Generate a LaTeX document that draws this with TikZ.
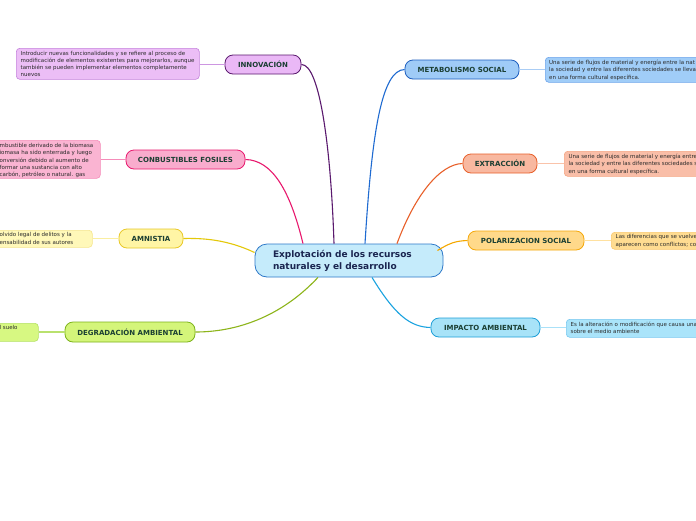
\documentclass[tikz,border=0pt]{standalone}
\usepackage{fontspec}
\setmainfont{DejaVu Sans}
\usetikzlibrary{calc}
\definecolor{txtgreen}{HTML}{1B3F33}
\definecolor{txtnavy}{HTML}{1A2550}
\definecolor{desctxt}{HTML}{2A2A2A}
% central
\definecolor{cfill}{RGB}{197,235,251}
\definecolor{cdraw}{RGB}{45,120,200}
% innovacion
\definecolor{innD}{RGB}{90,25,110}
\definecolor{innF}{RGB}{234,184,246}
\definecolor{inndD}{RGB}{196,130,220}
\definecolor{inndF}{RGB}{236,190,246}
\definecolor{innL}{RGB}{205,150,225}
% combustibles
\definecolor{comD}{RGB}{232,25,110}
\definecolor{comF}{RGB}{249,172,205}
\definecolor{comdD}{RGB}{245,140,185}
\definecolor{comdF}{RGB}{250,180,210}
\definecolor{comL}{RGB}{245,140,185}
% amnistia
\definecolor{amnD}{RGB}{232,200,40}
\definecolor{amnF}{RGB}{255,245,165}
\definecolor{amndD}{RGB}{245,230,140}
\definecolor{amndF}{RGB}{255,248,185}
\definecolor{amnL}{RGB}{250,238,160}
\definecolor{amnC}{RGB}{228,200,10}
% degradacion
\definecolor{degD}{RGB}{125,179,26}
\definecolor{degF}{RGB}{212,245,122}
\definecolor{degdD}{RGB}{180,225,100}
\definecolor{degdF}{RGB}{215,248,130}
\definecolor{degL}{RGB}{185,225,110}
\definecolor{degC}{RGB}{141,181,26}
% metabolismo
\definecolor{metD}{RGB}{31,95,191}
\definecolor{metF}{RGB}{159,203,247}
\definecolor{metdD}{RGB}{110,165,235}
\definecolor{metdF}{RGB}{160,205,248}
\definecolor{metL}{RGB}{170,205,245}
\definecolor{metC}{RGB}{31,107,209}
% extraccion
\definecolor{extD}{RGB}{232,96,42}
\definecolor{extF}{RGB}{248,184,160}
\definecolor{extdD}{RGB}{245,165,130}
\definecolor{extdF}{RGB}{249,190,168}
\definecolor{extL}{RGB}{250,195,170}
% polarizacion
\definecolor{polD}{RGB}{245,168,10}
\definecolor{polF}{RGB}{255,217,138}
\definecolor{poldD}{RGB}{250,200,110}
\definecolor{poldF}{RGB}{255,220,145}
\definecolor{polL}{RGB}{255,225,160}
\definecolor{polC}{RGB}{245,168,0}
% impacto
\definecolor{impD}{RGB}{30,159,216}
\definecolor{impF}{RGB}{168,227,248}
\definecolor{impdD}{RGB}{120,200,240}
\definecolor{impdF}{RGB}{170,228,250}
\definecolor{impL}{RGB}{170,225,248}
\definecolor{impC}{RGB}{26,163,224}
\begin{document}
\begin{tikzpicture}[x=1pt,y=-1pt,
  topic/.style={draw, line width=0.8pt, rounded corners=8pt, inner sep=0pt,
    font=\fontsize{7}{8}\selectfont\bfseries, text=txtgreen, align=center},
  descbox/.style={draw, line width=0.6pt, rounded corners=3.5pt, inner sep=0pt, anchor=north west},
  desctext/.style={anchor=north west, inner sep=0pt, align=left, text=desctxt,
    font=\fontsize{5.5}{7.2}\selectfont},
  conn/.style={line width=1.1pt},
  link/.style={line width=1.4pt}]
\useasboundingbox (0,0) rectangle (696,520);
\clip (0,0) rectangle (696,520);
\fill[white] (0,0) rectangle (696,520);

% central
\node[draw=cdraw, fill=cfill, line width=0.8pt,
  rounded corners=12pt, minimum width=188pt, minimum height=33pt, inner sep=0pt,
  text=txtnavy, font=\fontsize{9}{12}\selectfont\bfseries, text width=152pt, align=left] (c) at (349,260.5)
  {Explotación de los recursos\\naturales y el desarrollo};

% INNOVACION
\node[topic, draw=innD, fill=innF, minimum width=76pt, minimum height=19pt] (inn) at (263,64.5) {INNOVACIÓN};
\node[descbox, draw=inndD, fill=inndF, minimum width=183pt, minimum height=31pt] (innd) at (16,48) {};
\node[desctext] (inndt) at (20.5,51) {Introducir nuevas funcionalidades y se refiere al proceso de\\modificación de elementos existentes para mejorarlos, aunque\\también se pueden implementar elementos completamente\\nuevos};
\draw[link, innL] (innd.east |- inn.west) -- (inn.west);
\draw[conn, innD] ($(c.north)+(-15,0)$) .. controls (331,150) and (320,64) .. (inn.east);

% COMBUSTIBLES
\node[topic, draw=comD, fill=comF, minimum width=119pt, minimum height=19pt] (comb) at (185.5,159.5) {CONBUSTIBLES FOSILES};
\node[descbox, draw=comdD, fill=comdF, minimum width=120pt, minimum height=38pt] (combd) at (-20,140) {};
\node[desctext] (combdt) at (-0.5,143.3) {mbustible derivado de la biomasa\\iomasa ha sido enterrada y luego\\onversión debido al aumento de\\ formar una sustancia con alto\\carbón, petróleo o natural. gas};
\draw[link, comL] (combd.east |- comb.west) -- (comb.west);
\draw[conn, comD] ($(c.north)+(-46,0)$) .. controls (290,190) and (272,160) .. (comb.east);

% AMNISTIA
\node[topic, draw=amnD, fill=amnF, minimum width=64pt, minimum height=19pt] (amn) at (151,238.5) {AMNISTIA};
\node[descbox, draw=amndD, fill=amndF, minimum width=112pt, minimum height=17pt] (amnd) at (-20,230) {};
\node[desctext] (amndt) at (-0.5,232.5) {olvido legal de delitos y la\\ensabilidad de sus autores};
\draw[link, amnL] (amnd.east |- amn.west) -- (amn.west);
\draw[conn, amnC] ($(c.west)+(0,-8)$) .. controls (228,240) and (205,238) .. (amn.east);

% DEGRADACION
\node[topic, draw=degD, fill=degF, minimum width=130pt, minimum height=20pt] (deg) at (130,332) {DEGRADACIÓN AMBIENTAL};
\node[descbox, draw=degdD, fill=degdF, minimum width=58pt, minimum height=18pt] (degd) at (-20,323) {};
\node[desctext] (degdt) at (-0.5,325.5) {l suelo};
\draw[link, degL] (degd.east |- deg.west) -- (deg.west);
\draw[conn, degC] ($(c.south)+(-31,0)$) .. controls (280,318) and (235,332) .. (deg.east);

% METABOLISMO
\node[topic, draw=metD, fill=metF, minimum width=114pt, minimum height=19pt] (met) at (462,69.5) {METABOLISMO SOCIAL};
\node[descbox, draw=metdD, fill=metdF, minimum width=180pt, minimum height=25pt] (metd) at (545,57) {};
\node[desctext] (metdt) at (549,60) {Una serie de flujos de material y energía entre la nat\\la sociedad y entre las diferentes sociedades se lleva\\en una forma cultural específica.};
\draw[link, metL] (met.east) -- (metd.west |- met.east);
\draw[conn, metC] ($(c.north)+(16,0)$) .. controls (372,130) and (382,70) .. (met.west);

% EXTRACCION
\node[topic, draw=extD, fill=extF, minimum width=74pt, minimum height=19pt] (ext) at (500,163.5) {EXTRACCIÓN};
\node[descbox, draw=extdD, fill=extdF, minimum width=180pt, minimum height=25pt] (extd) at (564,151) {};
\node[desctext] (extdt) at (568.5,154) {Una serie de flujos de material y energía entre\\la sociedad y entre las diferentes sociedades s\\en una forma cultural específica.};
\draw[link, extL] (ext.east) -- (extd.west |- ext.east);
\draw[conn, extD] ($(c.north)+(48,0)$) .. controls (415,195) and (440,164) .. (ext.west);

% POLARIZACION
\node[topic, draw=polD, fill=polF, minimum width=116pt, minimum height=19pt] (pol) at (526,240.5) {POLARIZACION SOCIAL};
\node[descbox, draw=poldD, fill=poldF, minimum width=120pt, minimum height=17pt] (pold) at (611,232) {};
\node[desctext] (poldt) at (615.5,234.5) {Las diferencias que se vuelve\\aparecen como conflictos; co};
\draw[link, polL] (pol.east) -- (pold.west |- pol.east);
\draw[conn, polC] ($(c.east)+(-6,-10)$) .. controls (450,243) and (455,241) .. (pol.west);

% IMPACTO
\node[topic, draw=impD, fill=impF, minimum width=109pt, minimum height=19pt] (imp) at (485.5,327.5) {IMPACTO AMBIENTAL};
\node[descbox, draw=impdD, fill=impdF, minimum width=180pt, minimum height=18pt] (impd) at (566,319) {};
\node[desctext] (impdt) at (570.5,321.5) {Es la alteración o modificación que causa una\\sobre el medio ambiente};
\draw[link, impL] (imp.east) -- (impd.west |- imp.east);
\draw[conn, impC] ($(c.south)+(23,0)$) .. controls (395,315) and (410,327) .. (imp.west);
\end{tikzpicture}
\end{document}
